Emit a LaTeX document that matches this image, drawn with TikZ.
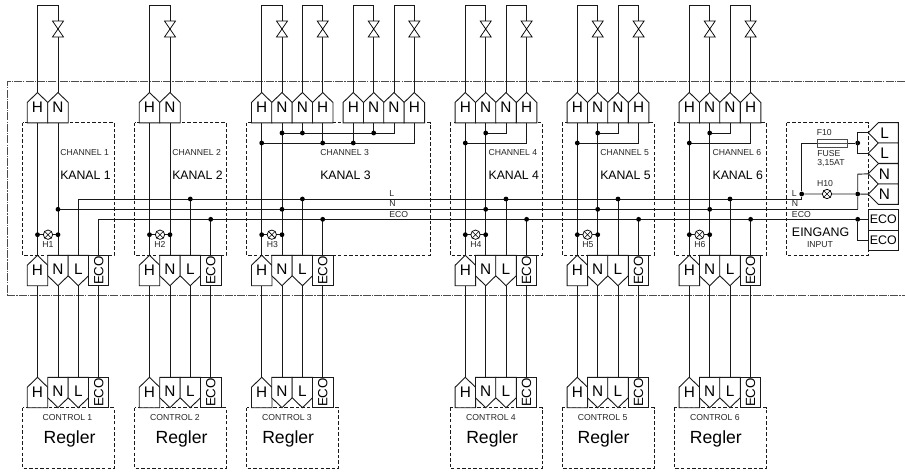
\documentclass[tikz,border=0pt]{standalone}
\usepackage{fontspec}
\setmainfont{Liberation Sans}
\newcommand\TermUp[4]{% name, x, apex y, text
  \draw[termshape] (#2-10.25,#3+30.4)--(#2-10.25,#3+10)--(#2,#3)--(#2+10.25,#3+10)--(#2+10.25,#3+30.4)--cycle;
  \coordinate (#1-t) at (#2,#3); \coordinate (#1-b) at (#2,#3+30.4);
  \node[termtext] (#1) at (#2,#3+15) {#4};}
\newcommand\TermDown[4]{% name, x, top y, text
  \draw[termshape] (#2-10.25,#3)--(#2-10.25,#3+20.4)--(#2,#3+30.4)--(#2+10.25,#3+20.4)--(#2+10.25,#3)--cycle;
  \coordinate (#1-t) at (#2,#3); \coordinate (#1-b) at (#2,#3+30.4);
  \node[termtext] (#1) at (#2,#3+14) {#4};}
\newcommand\TermEco[3]{% name, x, top y
  \draw[termshape] (#2-10.25,#3) rectangle (#2+10.25,#3+30.4);
  \coordinate (#1-t) at (#2,#3); \coordinate (#1-b) at (#2,#3+30.4);
  \node[ecotext,rotate=90] (#1) at (#2,#3+15.2) {ECO};}
\newcommand\TermLeft[3]{% name, top y, text
  \draw[termshape] (868.3,#2+10.2)--(878.3,#2)--(898.3,#2)--(898.3,#2+20.4)--(878.3,#2+20.4)--cycle;
  \coordinate (#1-a) at (868.3,#2+10.2);
  \node[termtext] (#1) at (884.5,#2+10.2) {#3};}
\newcommand\Valve[4]{% name, hot x, return x, apex y source names
  \coordinate (#1-c) at (#3,29);
  \coordinate (#1-top) at (#3,21);
  \coordinate (#1-bot) at (#3,37);
  \coordinate (#1-hc) at (#2,5);
  \coordinate (#1-nc) at (#3,5);
  \draw[wire] (#4) -- (#1-hc) -- (#1-nc) -- (#1-top);
  \draw[wire] (#1-bot) -- (#3,92.5);
  \draw[valveshape] (#3-5.5,21)--(#3+5.5,21)--(#3-5.5,37)--(#3+5.5,37)--cycle;}
\newcommand\Lamp[3]{% name, x, y
  \node[lampshape] (#1) at (#2,#3) {};
  \draw[line width=.45pt] (#1.north west)--(#1.south east) (#1.north east)--(#1.south west);}
\tikzset{
  wire/.style={line width=.68pt,black!90},
  termshape/.style={line width=.68pt,draw=black!90,fill=white},
  termtext/.style={inner sep=0pt,font=\fontsize{11.5}{12}\selectfont},
  ecotext/.style={inner sep=0pt,font=\fontsize{10}{10}\selectfont},
  valveshape/.style={line width=.55pt,draw=black,fill=white},
  lampshape/.style={circle,draw=black,fill=white,line width=.55pt,minimum size=7pt,inner sep=0pt},
  jn/.style={circle,fill=black,inner sep=0pt,minimum size=3.6pt},
  chbox/.style={line width=.65pt,draw=black!90,dash pattern=on 2.6pt off 1.6pt},
  outerline/.style={line width=.75pt,draw=black!70,dash pattern=on 6pt off .8pt on 1pt off .8pt},
  small/.style={inner sep=0pt,anchor=west,text=black!85,font=\fontsize{6.5}{7}\selectfont},
  smallc/.style={inner sep=0pt,text=black!85,font=\fontsize{6.5}{7}\selectfont},
  kanal/.style={inner sep=0pt,anchor=west,font=\fontsize{9.2}{10}\selectfont},
  regler/.style={inner sep=0pt,anchor=west,font=\fontsize{13.2}{14}\selectfont},
}
\begin{document}
\begin{tikzpicture}[x=0.75pt,y=-0.75pt]
\useasboundingbox (0,0) rectangle (905,471);
% outer enclosure
\draw[outerline] (905,81.7) -- (7,81.7) -- (7,295.7) -- (905,295.7);
% dashed boxes
\draw[chbox] (22.5,122.6) rectangle (114,255.3);
\draw[chbox] (134.5,122.6) rectangle (226,255.3);
\draw[chbox] (246.7,122.6) rectangle (430,255.3);
\draw[chbox] (450,122.6) rectangle (542,255.3);
\draw[chbox] (562.2,122.6) rectangle (654,255.3);
\draw[chbox] (674.3,122.6) rectangle (766,255.3);
\draw[chbox] (786.3,122.6) rectangle (868.3,255.3);
\foreach \xa/\xb in {22.5/114,134.5/226,246.7/338.3,450/542,562.2/654,674.3/766}
  \draw[chbox] (\xa,407.7) rectangle (\xb,468.3);
% top terminals
\foreach \n/\x/\t in {a/37.5/H,b/58/N, c/149.5/H,d/170/N,
  e/261.7/H,f/282/N,g/302.4/N,h/322.7/H,i/353.3/H,j/373.7/N,k/394/N,l/414.3/H,
  m/465.3/H,n/485.7/N,o/506/N,p/526.6/H,
  q/577.3/H,r/597.7/N,s/618/N,u/638.6/H,
  v/689.3/H,w/709.7/N,y/730/N,z/750.6/H}{
  \coordinate (ap\n) at (\x,92.5);
}
\Valve{va}{37.5}{58}{apa}
\Valve{vb}{149.5}{170}{apc}
\Valve{vc}{261.7}{282}{ape}
\Valve{vd}{302.4}{322.7}{apg}
\Valve{ve}{353.3}{373.7}{api}
\Valve{vf}{394}{414.3}{apk}
\Valve{vg}{465.3}{485.7}{apm}
\Valve{vh}{506}{526.6}{apo}
\Valve{vi}{577.3}{597.7}{apq}
\Valve{vj}{618}{638.6}{aps}
\Valve{vk}{689.3}{709.7}{apv}
\Valve{vl}{730}{750.6}{apy}
% buses
\coordinate (cL) at (801.7,199);
\coordinate (cN) at (857.7,209.3);
\coordinate (cE) at (857.7,219.3);
\coordinate (sL) at (78.3,199);
\coordinate (sN) at (58,209.3);
\coordinate (sE) at (98.7,219.3);
\draw[wire] (sL) -- (cL);
\draw[wire] (sN) -- (cN);
\draw[wire] (sE) -- (cE);
% bottom terminal columns
\foreach \c/\hx/\nx/\lx/\ex/\lampx/\num/\labx/\ctlx/\regx in {
 1/37.5/58/78.3/98.7/48/1/48/67.5/43.3,
 2/149.5/170/190.3/210.7/160/2/160/175/155.3,
 3/261.7/282/302.4/322.7/271.8/3/272.3/287/262,
 4/465.3/485.7/506/526.6/475.5/4/476/491/466,
 5/577.3/597.7/618/638.6/587.5/5/588/602.7/577.3,
 6/689.3/709.7/730/750.6/699.5/6/700/714.8/689.7}{
  \coordinate (h\c t) at (\hx,122.5);
  \coordinate (n\c t) at (\nx,122.5);
  \draw[wire] (h\c t) -- (\hx,255.3) (\nx,122.5) -- (\nx,255.3);
  \draw[wire] (\lx,199) -- (\lx,255.3);
  \draw[wire] (\ex,219.3) -- (\ex,255.3);
  \draw[wire] (\hx,234.7) -- (\nx,234.7);
  \draw[wire] (\hx,285.7) -- (\hx,377.3) (\nx,285.7) -- (\nx,377.3) (\lx,285.7) -- (\lx,377.3) (\ex,285.7) -- (\ex,377.3);
  \node[jn] (dh\c) at (\hx,234.7) {};
  \node[jn] (dn\c) at (\nx,234.7) {};
  \Lamp{lamp\c}{\lampx}{234.7}
  \node[smallc] (lampl\c) at (\labx,244.7) {H\num};
  \TermUp{bh\c}{\hx}{255.3}{H}
  \TermDown{bn\c}{\nx}{255.3}{N}
  \TermDown{bl\c}{\lx}{255.3}{L}
  \TermEco{be\c}{\ex}{255.3}
  \TermUp{ch\c}{\hx}{377.3}{H}
  \TermDown{cn\c}{\nx}{377.3}{N}
  \TermDown{cl\c}{\lx}{377.3}{L}
  \TermEco{ce\c}{\ex}{377.3}
  \node[smallc] (ctl\c) at (\ctlx,417.7) {CONTROL \num};
  \node[regler] (reg\c) at (\regx,439) {Regler};
}
% bus junctions
\node[jn] (jn1) at (58,209.3) {};
\foreach \x [count=\i] in {190.3,302.4,506,618,730}
  \node[jn] (jl\i) at (\x,199) {};
\foreach \x [count=\i] in {210.7,322.7,526.6,638.6,750.6}
  \node[jn] (je\i) at (\x,219.3) {};
\foreach \x [count=\i] in {282,485.7,597.7,709.7}
  \node[jn] (jnn\i) at (\x,209.3) {};
% inner links channel 3
\draw[wire] (282,133) -- (394,133) -- (394,122.5);
\draw[wire] (302.4,122.5) -- (302.4,133) (373.7,122.5) -- (373.7,133);
\draw[wire] (261.7,143) -- (414.3,143) -- (414.3,122.5);
\draw[wire] (322.7,122.5) -- (322.7,143) (353.3,122.5) -- (353.3,143);
\foreach \x/\nm in {282/p1,302.4/p2,373.7/p3} \node[jn] (\nm) at (\x,133) {};
\foreach \x/\nm in {261.7/q1,322.7/q2,353.3/q3} \node[jn] (\nm) at (\x,143) {};
% inner links channels 4-6
\foreach \hx/\nx/\ny/\hy/\nm in {465.3/485.7/506/526.6/x4,577.3/597.7/618/638.6/x5,689.3/709.7/730/750.6/x6}{
  \draw[wire] (\nx,133) -- (\ny,133) -- (\ny,122.5);
  \draw[wire] (\hx,143) -- (\hy,143) -- (\hy,122.5);
  \node[jn] (\nm n) at (\nx,133) {};
  \node[jn] (\nm h) at (\hx,143) {};
}
% top terminals drawn
\TermUp{ta}{37.5}{92.5}{H}\TermUp{tb}{58}{92.5}{N}
\TermUp{tc}{149.5}{92.5}{H}\TermUp{td}{170}{92.5}{N}
\TermUp{te}{261.7}{92.5}{H}\TermUp{tf}{282}{92.5}{N}\TermUp{tg}{302.4}{92.5}{N}\TermUp{th}{322.7}{92.5}{H}
\TermUp{ti}{353.3}{92.5}{H}\TermUp{tj}{373.7}{92.5}{N}\TermUp{tk}{394}{92.5}{N}\TermUp{tl}{414.3}{92.5}{H}
\TermUp{tm}{465.3}{92.5}{H}\TermUp{tn}{485.7}{92.5}{N}\TermUp{to}{506}{92.5}{N}\TermUp{tp}{526.6}{92.5}{H}
\TermUp{tq}{577.3}{92.5}{H}\TermUp{tr}{597.7}{92.5}{N}\TermUp{ts}{618}{92.5}{N}\TermUp{tu}{638.6}{92.5}{H}
\TermUp{tv}{689.3}{92.5}{H}\TermUp{tw}{709.7}{92.5}{N}\TermUp{ty}{730}{92.5}{N}\TermUp{tz}{750.6}{92.5}{H}
% channel labels
\foreach \x/\nm/\n in {60/1/1,172/2/2,320/3/3,488.3/4/4,600/5/5,712.3/6/6}{
  \node[small] (chl\nm) at (\x,153) {CHANNEL \n};
  \node[kanal] (kan\nm) at (\x,175) {KANAL \n};
}
% bus labels
\node[small] (lb1) at (389,193.7) {L};
\node[small] (lb2) at (389,203.7) {N};
\node[small] (lb3) at (389,214.7) {ECO};
\node[small] (lb4) at (791.7,194) {L};
\node[small] (lb5) at (791.7,204) {N};
\node[small] (lb6) at (791.7,214.7) {ECO};
% input section
\TermLeft{il1}{122.6}{L}
\TermLeft{il2}{143}{L}
\TermLeft{in1}{163.6}{N}
\TermLeft{in2}{184}{N}
\draw[termshape] (868.3,209.3) rectangle (898.3,230);
\node[ecotext,inner sep=0pt,font=\fontsize{9.3}{10}\selectfont] (ie1) at (883.3,219.7) {ECO};
\draw[termshape] (868.3,230) rectangle (898.3,250.7);
\node[ecotext,inner sep=0pt,font=\fontsize{9.3}{10}\selectfont] (ie2) at (883.3,240.3) {ECO};
\coordinate (f1) at (817,143);
\coordinate (f2) at (847.7,143);
\node[jn] (jf) at (857.7,143) {};
\node[jn] (jh) at (801.7,194) {};
\node[jn] (jh2) at (857.7,194) {};
\node[jn] (je) at (857.7,219.3) {};
\draw[wire] (cL) -- (jh) -- (801.7,143) -- (jf);
\draw[wire] (jh) -- (jh2) -- (in2-a);
\draw[wire] (cN) -- (jh2) -- (857.7,174.2) -- (in1-a);
\draw[wire] (il1-a) -- (857.7,132.8) -- (857.7,153.2) -- (il2-a);
\draw[wire] (je) -- (868.3,219.3);
\draw[wire] (je) -- (857.7,240.3) -- (868.3,240.3);
\draw[line width=.6pt,draw=black!70,fill=white] (817,139.3) rectangle (847.7,147.3);
\draw[line width=.5pt,black!70] (f1) -- (f2);
\Lamp{lamp10}{827}{194}
\node[smallc] (f10) at (824.3,132.7) {F10};
\node[small] (fuse) at (817,154) {FUSE};
\node[small] (fval) at (817,163.3) {3,15AT};
\node[smallc] (h10) at (825,184) {H10};
\node[inner sep=0pt,anchor=west,font=\fontsize{9.3}{10}\selectfont] (ein) at (791.7,232.3) {EINGANG};
\node[smallc] (inp) at (820,244.3) {INPUT};
\end{tikzpicture}
\end{document}
